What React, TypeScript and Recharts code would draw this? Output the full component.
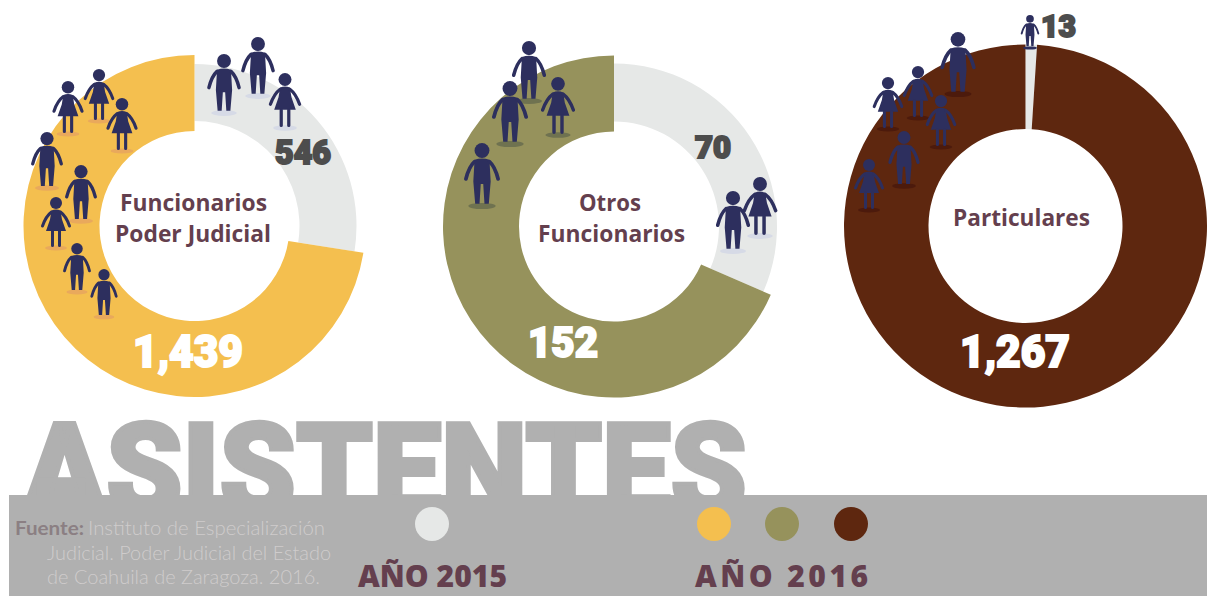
import React from "react";
import { PieChart, Pie, Cell } from "recharts";

const W = 1207;
const H = 596;

const categories = ["Año 2015", "Año 2016"];
const judicialValues = [546, 1439];
const otherValues = [70, 152];
const privateValues = [13, 1267];
const centerTitles = [["Funcionarios", "Poder Judicial"], ["Otros", "Funcionarios"], ["Particulares"]];
const sourceLines = ["Instituto de Especialización", "Judicial. Poder Judicial del Estado", "de Coahuila de Zaragoza. 2016."];

const GRAY = "#e6e8e7";
const YELLOW = "#f4bf4f";
const OLIVE = "#96925c";
const BROWN = "#5e270f";
const WINE = "#643f4e";
const BAND = "#b0b0b0";
const NAVY = "#2d2f5e";
const DARK = "#4d4d4d";
const HEAVY = "Roboto, 'Liberation Sans', sans-serif";
const LABEL = "'Open Sans', 'Noto Sans', sans-serif";

const toRows = (values: number[]) => values.map((value, i) => ({ name: categories[i], value }));

type Figure = { kind: "m" | "w"; x: number; top: number; feet: number; shadow: string };
const SH_Y = "#e9a95c";
const SH_G = "#d6dae6";
const SH_O = "#6f7250";
const SH_B = "#4c1a0c";
const figures: Figure[] = [
  { kind: "m", x: 224, top: 54, feet: 112, shadow: SH_G },
  { kind: "m", x: 258, top: 37, feet: 95, shadow: SH_G },
  { kind: "w", x: 285, top: 73, feet: 127, shadow: SH_G },
  { kind: "w", x: 68, top: 81, feet: 133, shadow: SH_Y },
  { kind: "w", x: 99, top: 69, feet: 120, shadow: SH_Y },
  { kind: "w", x: 122, top: 98, feet: 150, shadow: SH_Y },
  { kind: "m", x: 47, top: 132, feet: 187, shadow: SH_Y },
  { kind: "m", x: 81, top: 165, feet: 220, shadow: SH_Y },
  { kind: "w", x: 56, top: 197, feet: 247, shadow: SH_Y },
  { kind: "m", x: 77, top: 243, feet: 291, shadow: SH_Y },
  { kind: "m", x: 104, top: 269, feet: 316, shadow: SH_Y },
  { kind: "m", x: 529, top: 41, feet: 100, shadow: SH_O },
  { kind: "m", x: 510, top: 81, feet: 143, shadow: SH_O },
  { kind: "w", x: 558, top: 77, feet: 134, shadow: SH_O },
  { kind: "m", x: 482, top: 143, feet: 205, shadow: SH_O },
  { kind: "m", x: 733, top: 191, feet: 250, shadow: SH_G },
  { kind: "w", x: 760, top: 177, feet: 235, shadow: SH_G },
  { kind: "m", x: 958, top: 32, feet: 93, shadow: SH_B },
  { kind: "w", x: 888, top: 77, feet: 128, shadow: SH_B },
  { kind: "w", x: 918, top: 66, feet: 117, shadow: SH_B },
  { kind: "w", x: 941, top: 95, feet: 146, shadow: SH_B },
  { kind: "m", x: 904, top: 131, feet: 185, shadow: SH_B },
  { kind: "w", x: 869, top: 159, feet: 209, shadow: SH_B },
  { kind: "m", x: 1030, top: 15, feet: 47, shadow: NAVY },
];

function Person({ f }: { f: Figure }) {
  const s = (f.feet - f.top) / 100;
  return (
    <g>
      <ellipse cx={f.x} cy={f.feet + 1} rx={s * 22} ry={s * 5} fill={f.shadow} />
      <g transform={`translate(${f.x} ${f.top}) scale(${s})`} fill={NAVY} stroke="none">
        <circle cx={0} cy={12} r={12} />
        {f.kind === "m" ? (
          <>
            <path d="M-12,27 Q0,23 12,27 L14,62 L11,98 L4,98 L2,66 L-2,66 L-4,98 L-11,98 L-14,62 Z" />
            <path d="M-12,30 Q-21,38 -26,58 M12,30 Q21,38 26,58" fill="none" stroke={NAVY} strokeWidth={6} strokeLinecap="round" />
          </>
        ) : (
          <>
            <path d="M-9,27 Q0,23 9,27 L12,45 L20,68 L-20,68 L-12,45 Z" />
            <path d="M-7,68 L-7,97 M7,68 L7,97 M-9,30 Q-20,38 -27,58 M9,30 Q20,38 27,58" fill="none" stroke={NAVY} strokeWidth={6} strokeLinecap="round" />
          </>
        )}
      </g>
    </g>
  );
}

function Num({ x, y, w, value, fill, size }: { x: number; y: number; w: number; value: number; fill: string; size: number }) {
  return (
    <text x={x} y={y} fontFamily={HEAVY} fontWeight={900} fontSize={size} fill={fill} stroke={fill} strokeWidth={2} textLength={w} lengthAdjust="spacingAndGlyphs">
      {value.toLocaleString("en-US")}
    </text>
  );
}

function Title({ x, y, w, text, size = 23 }: { x: number; y: number; w: number; text: string; size?: number }) {
  return (
    <text x={x} y={y} fontFamily={LABEL} fontWeight={700} fontSize={size} fill={WINE} textLength={w} lengthAdjust="spacingAndGlyphs">
      {text}
    </text>
  );
}

const layer: React.CSSProperties = { position: "absolute", left: 0, top: 0 };

export default function App() {
  return (
    <div style={{ position: "absolute", left: 0, top: 0, width: W, height: H, overflow: "hidden", background: "#fff" }}>
      <svg width={W} height={H} style={layer}>
        <text x={23} y={513} fontFamily={HEAVY} fontWeight={900} fontSize={126} fill={BAND} stroke={BAND} strokeWidth={4} textLength={724} lengthAdjust="spacingAndGlyphs">
          ASISTENTES
        </text>
        <rect x={9} y={495} width={W - 9} height={H - 495} fill={BAND} />
      </svg>
      <div style={layer}>
        <PieChart width={W} height={H} margin={{ top: 0, right: 0, bottom: 0, left: 0 }}>
          <Pie data={toRows(judicialValues)} dataKey="value" cx={194.5} cy={226} innerRadius={105} outerRadius={162} startAngle={90} endAngle={-270} stroke="none" isAnimationActive={false}>
            <Cell fill={GRAY} />
            <Cell fill="none" />
          </Pie>
          <Pie data={toRows(judicialValues)} dataKey="value" cx={194.5} cy={226} innerRadius={95} outerRadius={171} startAngle={90} endAngle={-270} stroke="none" isAnimationActive={false}>
            <Cell fill="none" />
            <Cell fill={YELLOW} />
          </Pie>
          <Pie data={toRows(otherValues)} dataKey="value" cx={614} cy={226.5} innerRadius={105} outerRadius={163} startAngle={90} endAngle={-270} stroke="none" isAnimationActive={false}>
            <Cell fill={GRAY} />
            <Cell fill="none" />
          </Pie>
          <Pie data={toRows(otherValues)} dataKey="value" cx={614} cy={226.5} innerRadius={95} outerRadius={171} startAngle={90} endAngle={-270} stroke="none" isAnimationActive={false}>
            <Cell fill="none" />
            <Cell fill={OLIVE} />
          </Pie>
          <Pie data={toRows(privateValues)} dataKey="value" cx={1025.5} cy={226} innerRadius={97} outerRadius={181.5} startAngle={90} endAngle={-270} stroke="none" isAnimationActive={false}>
            <Cell fill={GRAY} />
            <Cell fill={BROWN} />
          </Pie>
        </PieChart>
      </div>
      <svg width={W} height={H} style={layer}>
        {figures.map((f, i) => (
          <Person key={i} f={f} />
        ))}

        <Title x={120} y={211} w={147} text={centerTitles[0][0]} />
        <Title x={115} y={242} w={156} text={centerTitles[0][1]} />
        <Title x={579} y={211} w={62} text={centerTitles[1][0]} />
        <Title x={538} y={242} w={147} text={centerTitles[1][1]} />
        <Title x={953} y={226} w={137} text={centerTitles[2][0]} />

        <Num x={275} y={164} w={56} value={judicialValues[0]} fill={DARK} size={33} />
        <Num x={133} y={367} w={110} value={judicialValues[1]} fill="#ffffff" size={44} />
        <Num x={695} y={158} w={36} value={otherValues[0]} fill={DARK} size={31} />
        <Num x={528} y={357} w={70} value={otherValues[1]} fill="#ffffff" size={42} />
        <Num x={1041} y={37} w={35} value={privateValues[0]} fill={DARK} size={31} />
        <Num x={960} y={367} w={110} value={privateValues[1]} fill="#ffffff" size={44} />

        <text x={15} y={535} fontFamily="Lato, sans-serif" fontSize={19} fontWeight={700} fill="#8b7f83" textLength={69} lengthAdjust="spacingAndGlyphs">Fuente:</text>
        <text x={88} y={535} fontFamily="Lato, sans-serif" fontSize={19} fontWeight={300} fill="#cfcccc" textLength={237} lengthAdjust="spacingAndGlyphs">{sourceLines[0]}</text>
        <text x={47} y={560} fontFamily="Lato, sans-serif" fontSize={19} fontWeight={300} fill="#cfcccc" textLength={284} lengthAdjust="spacingAndGlyphs">{sourceLines[1]}</text>
        <text x={47} y={584} fontFamily="Lato, sans-serif" fontSize={19} fontWeight={300} fill="#cfcccc" textLength={273} lengthAdjust="spacingAndGlyphs">{sourceLines[2]}</text>

        <circle cx={432} cy={524} r={17} fill={GRAY} />
        <circle cx={714} cy={524} r={17} fill={YELLOW} />
        <circle cx={782} cy={524} r={17} fill={OLIVE} />
        <circle cx={851} cy={524} r={17} fill={BROWN} />
        <text x={358} y={587} fontFamily={LABEL} fontWeight={800} fontSize={30} fill={WINE} textLength={149} lengthAdjust="spacing">AÑO 2015</text>
        <text x={695} y={587} fontFamily={LABEL} fontWeight={800} fontSize={30} fill={WINE} textLength={173} lengthAdjust="spacing">AÑO 2016</text>
      </svg>
    </div>
  );
}
